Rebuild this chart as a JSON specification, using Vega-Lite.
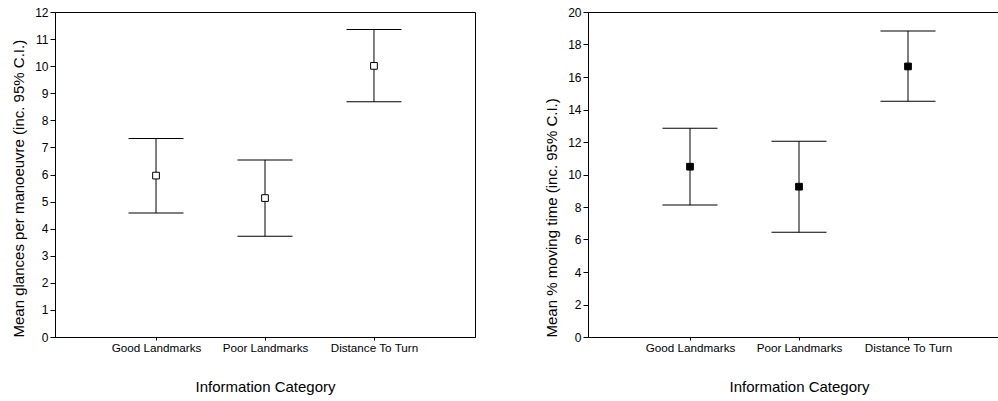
{
  "$schema": "https://vega.github.io/schema/vega-lite/v6.json",
  "padding": {"left": 11, "top": 5, "right": 0, "bottom": 0},
  "spacing": 68,
  "config": {
    "font": "Liberation Sans",
    "view": {"stroke": "black", "strokeWidth": 1},
    "axis": {
      "grid": false,
      "domainColor": "black",
      "tickColor": "black",
      "labelColor": "black",
      "titleColor": "black",
      "labelFont": "Liberation Sans",
      "titleFont": "Liberation Sans",
      "titleFontWeight": "normal",
      "titleFontSize": 15,
      "labelFontSize": 12,
      "labelOverlap": false
    },
    "axisX": {"labelAngle": 0, "tickSize": 3, "labelPadding": 2, "titlePadding": 26, "labelFontSize": 11.7},
    "axisY": {"tickSize": 5, "labelPadding": 2, "titlePadding": 8, "titleAnchor": "start"}
  },
  "hconcat": [
    {
      "width": 420,
      "height": 325,
      "data": {"values": [
        {"category": "Good Landmarks", "mean": 5.96, "lo": 4.58, "hi": 7.33},
        {"category": "Poor Landmarks", "mean": 5.13, "lo": 3.72, "hi": 6.54},
        {"category": "Distance To Turn", "mean": 10.01, "lo": 8.69, "hi": 11.35}
      ]},
      "encoding": {
        "x": {"field": "category", "type": "nominal", "sort": null, "scale": {"type": "point", "padding": 0.927}, "title": "Information Category"}
      },
      "layer": [
        {
          "mark": {"type": "rule", "color": "black", "strokeWidth": 1},
          "encoding": {
            "y": {"field": "lo", "type": "quantitative", "scale": {"domain": [0, 12], "nice": false}, "axis": {"values": [0,1,2,3,4,5,6,7,8,9,10,11,12]}, "title": "Mean glances per manoeuvre (inc. 95% C.I.)"},
            "y2": {"field": "hi"}
          }
        },
        {
          "mark": {"type": "tick", "color": "black", "size": 55, "thickness": 1, "opacity": 1},
          "encoding": {"y": {"field": "lo", "type": "quantitative", "axis": {"values": [0,1,2,3,4,5,6,7,8,9,10,11,12]}, "title": "Mean glances per manoeuvre (inc. 95% C.I.)"}}
        },
        {
          "mark": {"type": "tick", "color": "black", "size": 55, "thickness": 1, "opacity": 1},
          "encoding": {"y": {"field": "hi", "type": "quantitative", "axis": {"values": [0,1,2,3,4,5,6,7,8,9,10,11,12]}, "title": "Mean glances per manoeuvre (inc. 95% C.I.)"}}
        },
        {
          "mark": {"type": "point", "shape": "square", "size": 45, "filled": true, "fill": "white", "stroke": "black", "strokeWidth": 1, "opacity": 1},
          "encoding": {"y": {"field": "mean", "type": "quantitative", "axis": {"values": [0,1,2,3,4,5,6,7,8,9,10,11,12]}, "title": "Mean glances per manoeuvre (inc. 95% C.I.)"}}
        }
      ]
    },
    {
      "width": 411,
      "height": 325,
      "data": {"values": [
        {"category": "Good Landmarks", "mean": 10.48, "lo": 8.12, "hi": 12.85},
        {"category": "Poor Landmarks", "mean": 9.25, "lo": 6.44, "hi": 12.05},
        {"category": "Distance To Turn", "mean": 16.65, "lo": 14.51, "hi": 18.83}
      ]},
      "encoding": {
        "x": {"field": "category", "type": "nominal", "sort": null, "scale": {"type": "point", "padding": 0, "range": [102, 320]}, "title": "Information Category"}
      },
      "layer": [
        {
          "mark": {"type": "rule", "color": "black", "strokeWidth": 1},
          "encoding": {
            "y": {"field": "lo", "type": "quantitative", "scale": {"domain": [0, 20], "nice": false}, "axis": {"values": [0,2,4,6,8,10,12,14,16,18,20]}, "title": "Mean % moving time (inc. 95% C.I.)"},
            "y2": {"field": "hi"}
          }
        },
        {
          "mark": {"type": "tick", "color": "black", "size": 55, "thickness": 1, "opacity": 1},
          "encoding": {"y": {"field": "lo", "type": "quantitative", "axis": {"values": [0,2,4,6,8,10,12,14,16,18,20]}, "title": "Mean % moving time (inc. 95% C.I.)"}}
        },
        {
          "mark": {"type": "tick", "color": "black", "size": 55, "thickness": 1, "opacity": 1},
          "encoding": {"y": {"field": "hi", "type": "quantitative", "axis": {"values": [0,2,4,6,8,10,12,14,16,18,20]}, "title": "Mean % moving time (inc. 95% C.I.)"}}
        },
        {
          "mark": {"type": "point", "shape": "square", "size": 45, "filled": true, "fill": "black", "stroke": "black", "strokeWidth": 1, "opacity": 1},
          "encoding": {"y": {"field": "mean", "type": "quantitative", "axis": {"values": [0,2,4,6,8,10,12,14,16,18,20]}, "title": "Mean % moving time (inc. 95% C.I.)"}}
        }
      ]
    }
  ]
}
